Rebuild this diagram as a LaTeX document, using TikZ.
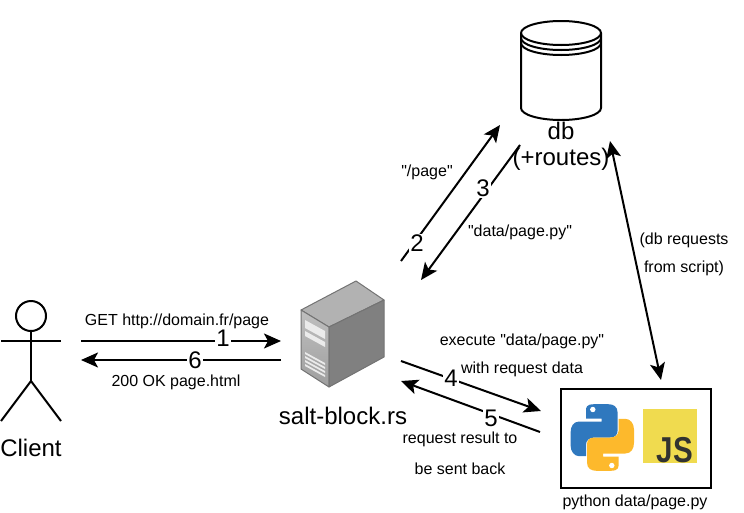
\documentclass[tikz,border=0pt]{standalone}
\usepackage{fontspec}
\setmainfont{Liberation Sans}
\usetikzlibrary{arrows.meta}
\tikzset{
  link/.style={line width=2pt,-{Stealth[length=17pt,width=15pt,inset=4pt]}},
  linkboth/.style={line width=2pt,{Stealth[length=17pt,width=15pt,inset=4pt]}-{Stealth[length=17pt,width=15pt,inset=4pt]}},
  stepnum/.style={fill=white,inner sep=1pt,font=\fontsize{24}{24}\selectfont},
  biglabel/.style={inner sep=0pt,font=\fontsize{24}{24}\selectfont},
  smalllabel/.style={inner sep=0pt,font=\fontsize{16}{16}\selectfont},
  stick/.style={line width=2pt},
  serveredge/.style={draw=black!55,line width=1pt,line join=round},
}
\definecolor{pythonblue}{HTML}{2F78BE}
\definecolor{pythonyellow}{HTML}{FDB92C}
\definecolor{jsyellow}{HTML}{F0DB4F}
\definecolor{jsdark}{HTML}{323330}
\newcommand{\snake}[1]{%
  \fill[#1] (-8.3,-33.3) .. controls (-16,-33.3) and (-16.3,-30) .. (-16.3,-27)
    -- (-16.3,-19) -- (-0.7,-19) -- (-0.7,-16) -- (-23,-16)
    .. controls (-29,-16) and (-31.7,-11) .. (-31.7,-5) -- (-31.7,8)
    .. controls (-31.7,14) and (-28,18.7) .. (-23,18.7) -- (-16.3,18.7) -- (-16.3,7)
    .. controls (-16.3,3) and (-13,0) .. (-8,0) -- (8,0)
    .. controls (13,0) and (15.3,-3) .. (15.3,-7) -- (15.3,-25)
    .. controls (15.3,-31) and (11,-33.3) .. (6,-33.3) -- cycle;
}
\begin{document}
\begin{tikzpicture}[x=1pt,y=-1pt]
\useasboundingbox (0,0) rectangle (744,512);
% client
\draw[stick] (31,316) circle [radius=15];
\draw[stick] (31,331)--(31,381);
\draw[stick] (1,341)--(61,341);
\draw[stick] (1,421)--(31,381)--(61,421);
\node[biglabel] (client) at (31,448) {Client};
% server
\fill[black!30,serveredge] (301,310)--(356,281)--(384,300)--(329,327)--cycle;
\shade[top color=black!25,bottom color=black!38,serveredge] (301,310)--(329,327)--(329,387)--(301,369)--cycle;
\fill[black!50,serveredge] (329,327)--(384,300)--(384,357)--(329,387)--cycle;
\fill[black!8] (305,320)--(325,331)--(325,339)--(305,328)--cycle;
\fill[black!8] (305,331)--(325,342)--(325,347)--(305,336)--cycle;
\foreach \y in {352,356,360,364} {
  \fill[black!8] (305,\y)--(325,\y+11)--(325,\y+13)--(305,\y+2)--cycle;
}
\node[biglabel] (server) at (343,416) {salt-block.rs};
% db
\draw[line width=2pt,fill=white] (521,33)--(521,108) arc [start angle=180,end angle=0,x radius=40,y radius=12]
  --(601,33) arc [start angle=0,end angle=-180,x radius=40,y radius=12];
\draw[line width=2pt] (521,33) arc [start angle=180,end angle=0,x radius=40,y radius=12];
\draw[line width=2pt] (521,38) arc [start angle=180,end angle=0,x radius=40,y radius=12];
\draw[line width=2pt] (521,43) arc [start angle=180,end angle=0,x radius=40,y radius=12];
\node[biglabel] (dbname) at (561,131) {db};
\node[biglabel] (dbroutes) at (561,159) {(+routes)};
% script box
\draw[line width=2pt] (561,389) rectangle (711,488);
\begin{scope}[shift={(602.3,437.5)}]
\snake{pythonblue}
\fill[white] (-9.5,-28) circle [radius=2.7];
\end{scope}
\begin{scope}[shift={(602.3,437.5)},rotate=180]
\snake{pythonyellow}
\fill[white] (-9.5,-28) circle [radius=2.7];
\end{scope}
\fill[jsyellow] (643,409) rectangle (697,463);
\node[inner sep=0pt,anchor=south east,text=jsdark,xscale=0.82,transform shape,font=\fontsize{36}{36}\selectfont\bfseries] (jslogo) at (693,463) {JS};
\node[smalllabel] (script) at (635,502) {python data/page.py};
% connectors
\coordinate (a1) at (81,341); \coordinate (b1) at (281,341);
\coordinate (a6) at (281,360); \coordinate (b6) at (81,360);
\coordinate (a2) at (401,261); \coordinate (b2) at (500,125);
\coordinate (a3) at (520,145); \coordinate (b3) at (421,280);
\coordinate (a4) at (401,361); \coordinate (b4) at (541,411);
\coordinate (a5) at (540,432); \coordinate (b5) at (401,381);
\coordinate (a7) at (610,141); \coordinate (b7) at (661,380);
\draw[link] (a1)--(b1);
\draw[link] (a6)--(b6);
\draw[link] (a2)--(b2);
\draw[link] (a3)--(b3);
\draw[link] (a4)--(b4);
\draw[link] (a5)--(b5);
\draw[linkboth] (a7)--(b7);
\node[stepnum] (n1) at (223,338) {1};
\node[stepnum] (n2) at (417,243) {2};
\node[stepnum] (n3) at (483,188) {3};
\node[stepnum] (n4) at (451,378) {4};
\node[stepnum] (n5) at (491,418) {5};
\node[stepnum] (n6) at (195,360) {6};
% labels
\node[smalllabel] (get) at (177,321) {GET http://domain.fr/page};
\node[smalllabel] (ok) at (176,382) {200 OK page.html};
\node[smalllabel] (page) at (427,172) {\textquotedbl/page\textquotedbl};
\node[smalllabel] (data) at (520,232) {\textquotedbl data/page.py\textquotedbl};
\node[smalllabel] (dbreq) at (684,240) {(db requests};
\node[smalllabel] (fromscript) at (684,268) {from script)};
\node[smalllabel] (exec) at (522,341) {execute \textquotedbl data/page.py\textquotedbl};
\node[smalllabel] (withdata) at (522,369) {with request data};
\node[smalllabel] (result) at (460,439) {request result to};
\node[smalllabel] (sent) at (460,469) {be sent back};
\end{tikzpicture}
\end{document}
